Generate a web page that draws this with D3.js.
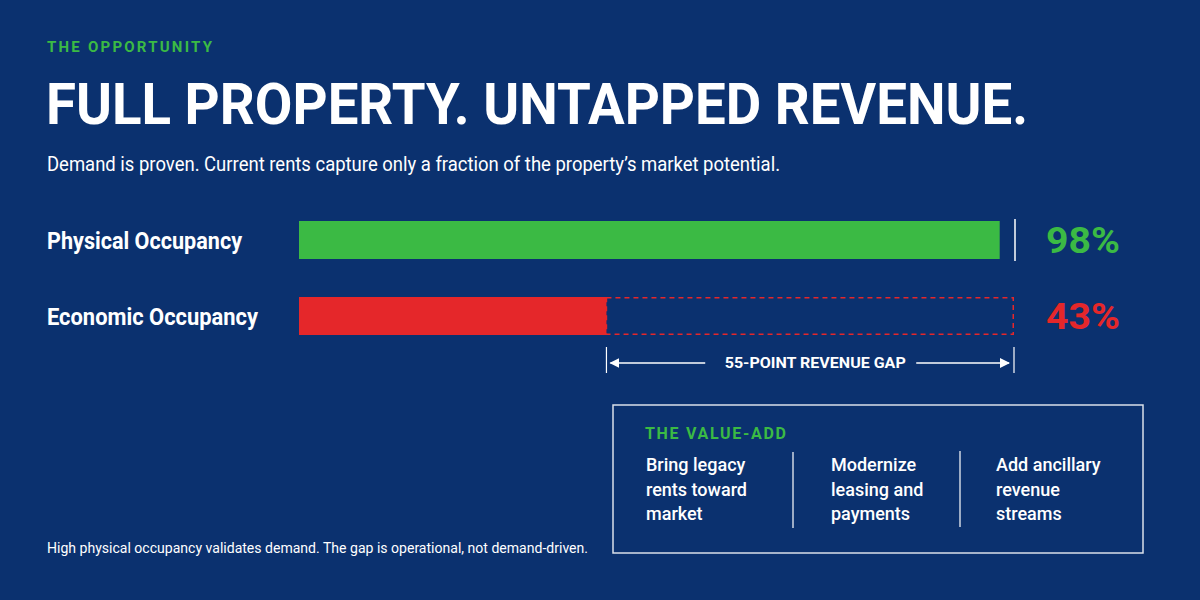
<!DOCTYPE html>
<head>
  <meta charset="utf-8">
  <script src="https://d3js.org/d3.v7.min.js"></script>
  <style>
    body { margin:0; background:#0b316f; }
    text { font-family: Roboto, "Open Sans", sans-serif; }
  </style>
</head>
<body>
  <script>
    // data
    var categories = ["Physical Occupancy", "Economic Occupancy"];
    var values = [98, 43];
    var valueLabels = ["98%", "43%"];
    var gapLabel = "55-POINT REVENUE GAP";
    var valueAddItems = [
      ["Bring legacy", "rents toward", "market"],
      ["Modernize", "leasing and", "payments"],
      ["Add ancillary", "revenue", "streams"]
    ];

    var width = 1200, height = 600;
    var green = "#3bba44", red = "#e5272a", white = "#ffffff";
    var barColors = [green, red];

    var svg = d3.select("body").append("svg")
      .attr("width", width)
      .attr("height", height);

    svg.append("rect").attr("width", width).attr("height", height).attr("fill", "#0b316f");

    // header
    svg.append("text")
      .attr("x", 47).attr("y", 52)
      .attr("fill", green)
      .attr("font-size", 15).attr("font-weight", 700)
      .attr("textLength", 165).attr("lengthAdjust", "spacing")
      .text("THE OPPORTUNITY");

    svg.append("text")
      .attr("x", 46).attr("y", 124)
      .attr("fill", white)
      .attr("font-size", 58).attr("font-weight", 700)
      .attr("textLength", 982).attr("lengthAdjust", "spacingAndGlyphs")
      .text("FULL PROPERTY. UNTAPPED REVENUE.");

    svg.append("text")
      .attr("x", 47).attr("y", 171)
      .attr("fill", white)
      .attr("font-size", 20)
      .attr("textLength", 733).attr("lengthAdjust", "spacingAndGlyphs")
      .text("Demand is proven. Current rents capture only a fraction of the property\u2019s market potential.");

    // scales
    var x = d3.scaleLinear().domain([0, 100]).range([299, 1014]);
    var y = d3.scaleBand().domain(categories).range([202, 354])
      .paddingInner(0.5).paddingOuter(0.25);

    var rows = categories.map(function(c, i) {
      return {name: c, value: values[i], label: valueLabels[i], color: barColors[i]};
    });

    // category labels
    svg.selectAll(".cat").data(rows).enter().append("text")
      .attr("class", "cat")
      .attr("x", 47)
      .attr("y", function(d) { return y(d.name) + y.bandwidth() / 2 + 9; })
      .attr("fill", white)
      .attr("font-size", 23).attr("font-weight", 700)
      .attr("textLength", function(d, i) { return i === 0 ? 195 : 211; })
      .attr("lengthAdjust", "spacingAndGlyphs")
      .text(function(d) { return d.name; });

    // dashed potential box for economic occupancy
    var econ = rows[1];
    svg.append("rect")
      .attr("x", x(econ.value))
      .attr("y", y(econ.name) + 0.75)
      .attr("width", x(100) - x(econ.value) - 0.75)
      .attr("height", y.bandwidth() - 1.5)
      .attr("fill", "none")
      .attr("stroke", red)
      .attr("stroke-width", 1.5)
      .attr("stroke-dasharray", "5,4");

    // bars
    svg.selectAll(".bar").data(rows).enter().append("rect")
      .attr("class", "bar")
      .attr("x", x(0))
      .attr("y", function(d) { return y(d.name); })
      .attr("width", function(d) { return x(d.value) - x(0); })
      .attr("height", y.bandwidth())
      .attr("fill", function(d) { return d.color; });

    // 100% marker next to physical bar
    svg.append("line")
      .attr("x1", x(100) + 1).attr("x2", x(100) + 1)
      .attr("y1", y(categories[0]) - 2).attr("y2", y(categories[0]) + y.bandwidth() + 2)
      .attr("stroke", white).attr("stroke-width", 1.5);

    // value labels
    svg.selectAll(".val").data(rows).enter().append("text")
      .attr("class", "val")
      .attr("x", 1046)
      .attr("y", function(d) { return y(d.name) + y.bandwidth() / 2 + 13; })
      .attr("fill", function(d) { return d.color; })
      .attr("font-size", 37).attr("font-weight", 700)
      .attr("textLength", 74).attr("lengthAdjust", "spacingAndGlyphs")
      .text(function(d) { return d.label; });

    // gap annotation
    var gx0 = x(econ.value), gx1 = x(100);
    var gy = y(econ.name) + y.bandwidth() + 28;
    var gapG = svg.append("g");
    [gx0, gx1].forEach(function(gx) {
      gapG.append("line")
        .attr("x1", gx).attr("x2", gx)
        .attr("y1", gy - 16).attr("y2", gy + 10)
        .attr("stroke", white).attr("stroke-width", 1.2);
    });
    var gmid = (gx0 + gx1) / 2 + 5;
    gapG.append("text")
      .attr("x", gmid).attr("y", gy + 5)
      .attr("text-anchor", "middle")
      .attr("fill", white)
      .attr("font-size", 15).attr("font-weight", 700)
      .attr("textLength", 181).attr("lengthAdjust", "spacingAndGlyphs")
      .text(gapLabel);

    var defs = svg.append("defs");
    defs.append("marker")
      .attr("id", "arrow")
      .attr("viewBox", "0 0 10 10")
      .attr("refX", 9).attr("refY", 5)
      .attr("markerWidth", 10).attr("markerHeight", 10)
      .attr("markerUnits", "userSpaceOnUse")
      .attr("orient", "auto-start-reverse")
      .append("path").attr("d", "M0,0L10,5L0,10Z").attr("fill", white);

    gapG.append("line")
      .attr("x1", gmid - 110).attr("x2", gx0 + 4)
      .attr("y1", gy).attr("y2", gy)
      .attr("stroke", white).attr("stroke-width", 1.5)
      .attr("marker-end", "url(#arrow)");
    gapG.append("line")
      .attr("x1", gmid + 101).attr("x2", gx1 - 5)
      .attr("y1", gy).attr("y2", gy)
      .attr("stroke", white).attr("stroke-width", 1.5)
      .attr("marker-end", "url(#arrow)");

    // value-add box
    var box = svg.append("g").attr("transform", "translate(613,405)");
    box.append("rect")
      .attr("width", 530).attr("height", 148)
      .attr("fill", "none")
      .attr("stroke", white).attr("stroke-opacity", 0.85)
      .attr("stroke-width", 1.5);

    box.append("text")
      .attr("x", 32).attr("y", 34)
      .attr("fill", green)
      .attr("font-size", 16).attr("font-weight", 700)
      .attr("textLength", 141).attr("lengthAdjust", "spacing")
      .text("THE VALUE-ADD");

    var cols = box.selectAll(".col").data(valueAddItems).enter().append("g")
      .attr("class", "col")
      .attr("transform", function(d, i) { return "translate(" + [33, 218, 383][i] + ",0)"; });

    cols.selectAll("text").data(function(d) { return d; }).enter().append("text")
      .attr("x", 0)
      .attr("y", function(d, j) { return 66 + j * 24.5; })
      .attr("fill", white)
      .attr("font-size", 18).attr("font-weight", 500)
      .text(function(d) { return d; });

    [180, 347].forEach(function(dx, i) {
      box.append("line")
        .attr("x1", dx).attr("x2", dx)
        .attr("y1", 47 - i).attr("y2", 123 - i)
        .attr("stroke", white).attr("stroke-opacity", 0.8)
        .attr("stroke-width", 1.5);
    });

    // footer
    svg.append("text")
      .attr("x", 47).attr("y", 553)
      .attr("fill", white)
      .attr("font-size", 14)
      .attr("textLength", 541).attr("lengthAdjust", "spacingAndGlyphs")
      .text("High physical occupancy validates demand. The gap is operational, not demand-driven.");
  </script>
</body>
